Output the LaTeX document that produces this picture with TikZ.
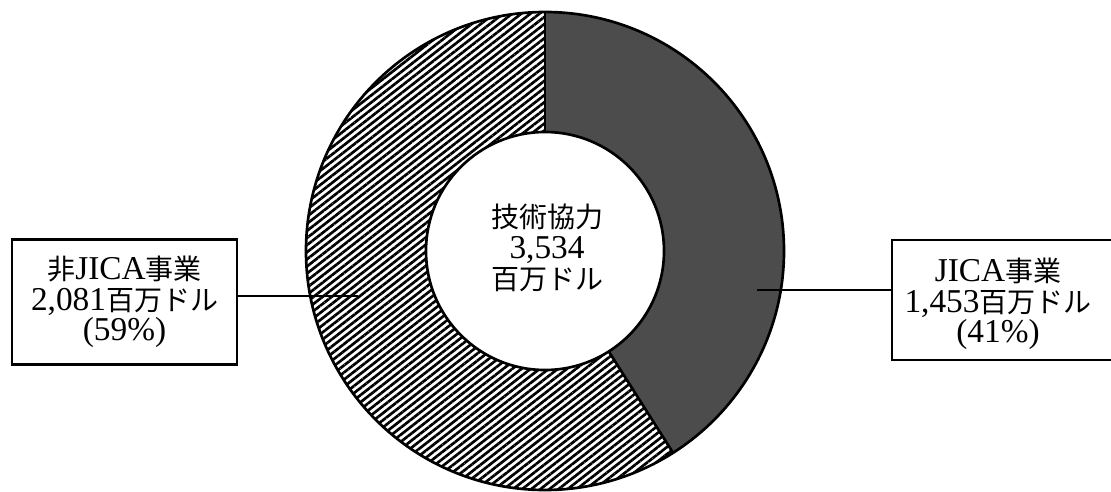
\documentclass[tikz,border=0pt]{standalone}
\usepackage{fontspec}
\setmainfont{Liberation Serif}
\newfontfamily\cjk{Noto Sans CJK JP}[Scale=0.84]
\usetikzlibrary{calc,patterns.meta}
\tikzset{
  hatchfill/.style={pattern={Lines[angle=38,distance=4.2pt,line width=2pt]},pattern color=black},
  darkfill/.style={fill=black!70},
  ringline/.style={line width=2pt},
  labelbox/.style={draw,line width=1.6pt,inner sep=0pt,align=center},
  conn/.style={line width=1.6pt},
  txt/.style={align=center,font=\fontsize{25}{23}\selectfont,inner sep=0pt}
}
\begin{document}
\begin{tikzpicture}[x=0.75pt,y=0.75pt]
\useasboundingbox (0,0) rectangle (1111,-492);
\clip (0,0) rectangle (1111,-492);
\coordinate (C) at (545,-251);
\def\Ro{239}
\def\Ri{119}
\def\Ang{-57.6}
% hatched segment (non-JICA)
\path[hatchfill] ($(C)+(90:\Ro)$) arc[start angle=90,end angle=302.4,radius=\Ro]
  -- ($(C)+(302.4:\Ri)$) arc[start angle=302.4,end angle=90,radius=\Ri] -- cycle;
% dark segment (JICA)
\path[darkfill] ($(C)+(90:\Ro)$) arc[start angle=90,end angle=\Ang,radius=\Ro]
  -- ($(C)+(\Ang:\Ri)$) arc[start angle=\Ang,end angle=90,radius=\Ri] -- cycle;
% outlines
\draw[ringline] (C) circle[radius=\Ro];
\draw[ringline] (C) circle[radius=\Ri];
\draw[ringline] ($(C)+(90:\Ri)$) -- ($(C)+(90:\Ro)$);
\draw[ringline] ($(C)+(\Ang:\Ri)$) -- ($(C)+(\Ang:\Ro)$);
% centre text
\node[txt] (ctext) at (547,-248) {{\cjk 技術協力}\\3,534\\{\cjk 百万ドル}};
% left box
\node[labelbox,minimum width=168.75pt,minimum height=93.75pt,font=\fontsize{25}{23}\selectfont] (lbox) at (124.5,-302)
  {{\cjk 非}JICA{\cjk 事業}\\2,081{\cjk 百万ドル}\\(59\%)};
\coordinate (lend) at (358,-296);
\draw[conn] (lend -| lbox.east) -- (lend);
% right box
\node[draw,line width=1.6pt,minimum width=174pt,minimum height=90pt,inner sep=0pt] (rbox) at (1008,-300) {};
\node[txt] (rtext) at (998,-304) {JICA{\cjk 事業}\\1,453{\cjk 百万ドル}\\(41\%)};
\coordinate (rend) at (757,-290);
\draw[conn] (rend) -- (rend -| rbox.west);
\end{tikzpicture}
\end{document}
